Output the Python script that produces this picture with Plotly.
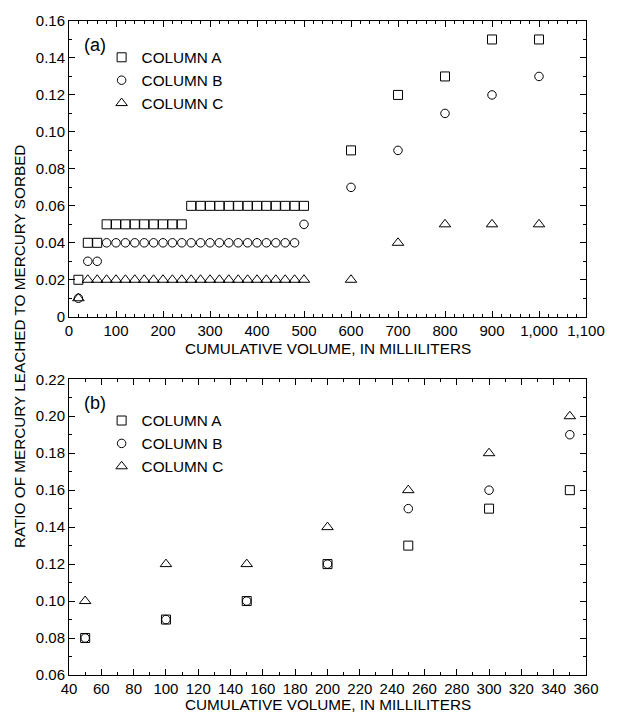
import plotly.graph_objects as go

# ---------------- data: panel (a) ----------------
vol_a_A = [20, 40, 60] + list(range(80, 260, 20)) + list(range(260, 520, 20)) + [600, 700, 800, 900, 1000]
ratio_a_A = [0.02, 0.04, 0.04] + [0.05] * 9 + [0.06] * 13 + [0.09, 0.12, 0.13, 0.15, 0.15]

vol_a_B = [20, 40, 60] + list(range(80, 500, 20)) + [500, 600, 700, 800, 900, 1000]
ratio_a_B = [0.01, 0.03, 0.03] + [0.04] * 21 + [0.05, 0.07, 0.09, 0.11, 0.12, 0.13]

vol_a_C = [20] + list(range(40, 520, 20)) + [600, 700, 800, 900, 1000]
ratio_a_C = [0.01] + [0.02] * 24 + [0.02, 0.04, 0.05, 0.05, 0.05]

# ---------------- data: panel (b) ----------------
vol_b = [50, 100, 150, 200, 250, 300, 350]
ratio_b_A = [0.08, 0.09, 0.10, 0.12, 0.13, 0.15, 0.16]
ratio_b_B = [0.08, 0.09, 0.10, 0.12, 0.15, 0.16, 0.19]
ratio_b_C = [0.10, 0.12, 0.12, 0.14, 0.16, 0.18, 0.20]

series_names = ["COLUMN A", "COLUMN B", "COLUMN C"]

# ---------------- tick labels ----------------
xa_tickvals = list(range(0, 1200, 100))
xa_ticktext = ["0", "100", "200", "300", "400", "500", "600", "700", "800", "900", "1,000", "1,100"]
ya_tickvals = [0, 0.02, 0.04, 0.06, 0.08, 0.10, 0.12, 0.14, 0.16]
ya_ticktext = ["0", "0.02", "0.04", "0.06", "0.08", "0.10", "0.12", "0.14", "0.16"]
xb_tickvals = list(range(40, 380, 20))
xb_ticktext = [str(v) for v in xb_tickvals]
yb_tickvals = [0.06, 0.08, 0.10, 0.12, 0.14, 0.16, 0.18, 0.20, 0.22]
yb_ticktext = ["0.06", "0.08", "0.10", "0.12", "0.14", "0.16", "0.18", "0.20", "0.22"]

FONT = "Liberation Sans, Arial, Helvetica, sans-serif"
FS = 15.3
TFS = 15
symbols = ["square-open", "circle-open", "triangle-up-open"]
msize = [9, 8.5, 10]

fig = go.Figure()

for name, xs, ys, sym, ms in zip(series_names,
                                 [vol_a_A, vol_a_B, vol_a_C],
                                 [ratio_a_A, ratio_a_B, ratio_a_C],
                                 symbols, msize):
    fig.add_trace(go.Scatter(x=xs, y=ys, mode="markers", name=name,
                             marker=dict(symbol=sym, size=ms, color="black",
                                         line=dict(color="black", width=1)),
                             xaxis="x", yaxis="y", legend="legend"))

for name, ys, sym, ms in zip(series_names,
                             [ratio_b_A, ratio_b_B, ratio_b_C],
                             symbols, msize):
    fig.add_trace(go.Scatter(x=vol_b, y=ys, mode="markers", name=name,
                             marker=dict(symbol=sym, size=ms, color="black",
                                         line=dict(color="black", width=1)),
                             xaxis="x2", yaxis="y2", legend="legend2"))

W, H = 617, 714
ml, mr, mt, mb = 69, 25, 16, 39
ph = H - mt - mb
pw = W - ml - mr


def py(y):
    return (H - mb - y) / ph


def px(x):
    return (x - ml) / pw


axis_common = dict(showline=True, linecolor="black", linewidth=1, mirror="ticks",
                   ticks="inside", ticklen=6, tickwidth=1, tickcolor="black",
                   showgrid=False, zeroline=False,
                   tickfont=dict(family=FONT, size=TFS, color="black"),
                   tickmode="array")

legend_common = dict(xanchor="left", yanchor="top",
                     bgcolor="rgba(0,0,0,0)", borderwidth=0,
                     font=dict(family=FONT, size=FS, color="black"),
                     tracegroupgap=0, itemwidth=30)

fig.update_layout(
    width=W, height=H,
    margin=dict(l=ml, r=mr, t=mt, b=mb),
    paper_bgcolor="white", plot_bgcolor="white",
    font=dict(family=FONT, size=FS, color="black"),
    xaxis=dict(axis_common, domain=[0, 1], anchor="y", range=[0, 1100],
               tickvals=xa_tickvals, ticktext=xa_ticktext,
               minor=dict(ticks="inside", ticklen=3, tickcolor="black",
                          tickmode="linear", tick0=0, dtick=20)),
    yaxis=dict(axis_common, domain=[py(314), 1], anchor="x", range=[0, 0.16],
               tickvals=ya_tickvals, ticktext=ya_ticktext,
               minor=dict(ticks="inside", ticklen=3, tickcolor="black",
                          tickmode="linear", tick0=0, dtick=0.01)),
    xaxis2=dict(axis_common, domain=[0, 1], anchor="y2", range=[40, 360],
                tickvals=xb_tickvals, ticktext=xb_ticktext,
                minor=dict(ticks="inside", ticklen=3, tickcolor="black",
                           tickmode="linear", tick0=40, dtick=10)),
    yaxis2=dict(axis_common, domain=[0, py(377)], anchor="x2", range=[0.06, 0.22],
                tickvals=yb_tickvals, ticktext=yb_ticktext,
                minor=dict(ticks="inside", ticklen=3, tickcolor="black",
                           tickmode="linear", tick0=0.06, dtick=0.01)),
    legend=dict(legend_common, x=px(102), y=py(36)),
    legend2=dict(legend_common, x=px(102), y=py(402)),
    showlegend=True,
)

ann_common = dict(xref="paper", yref="paper", showarrow=False,
                  xanchor="center", yanchor="middle")
annotations = [
    dict(ann_common, text="(a)", x=px(95), y=py(40),
         font=dict(family=FONT, size=18, color="black")),
    dict(ann_common, text="(b)", x=px(95), y=py(401),
         font=dict(family=FONT, size=18, color="black")),
    dict(ann_common, text="CUMULATIVE VOLUME, IN MILLILITERS", x=px(331), y=py(346),
         font=dict(family=FONT, size=FS, color="black")),
    dict(ann_common, text="CUMULATIVE VOLUME, IN MILLILITERS", x=px(331), y=py(705),
         font=dict(family=FONT, size=FS, color="black")),
    dict(ann_common, text="RATIO OF MERCURY LEACHED TO MERCURY SORBED", x=px(19), y=py(344),
         textangle=-90, font=dict(family=FONT, size=FS, color="black")),
]
fig.update_layout(annotations=annotations)

fig.write_html("out.html")
